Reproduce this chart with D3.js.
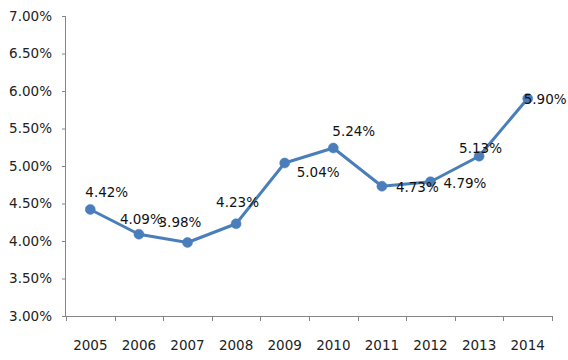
<!DOCTYPE html>
<html><head><meta charset="utf-8">
<script src="https://cdn.jsdelivr.net/npm/d3@7"></script>
<style>
html,body{margin:0;padding:0;background:#fff;}
svg{display:block;}
text{font-family:"DejaVu Sans",Verdana,sans-serif;}
</style></head>
<body>
<svg id="chart" width="568" height="360"></svg>
<script>
const years = ["2005","2006","2007","2008","2009","2010","2011","2012","2013","2014"];
const rates = [4.42, 4.09, 3.98, 4.23, 5.04, 5.24, 4.73, 4.79, 5.13, 5.90];
const yTicks = [3.0, 3.5, 4.0, 4.5, 5.0, 5.5, 6.0, 6.5, 7.0];
// label placement (layout only): offsets of label left/baseline from the point
const labelOffsets = [[-5,-12.5],[-19,-10],[-29,-15.5],[-20,-17],[12,14],[-1,-12],[14,6],[13,6],[-20,-3],[-4,5.5]];

const svg = d3.select("#chart");
const mLeft = 66, mRight = 552, mTop = 16, mBottom = 316;
const x = d3.scaleBand().domain(years).range([mLeft, mRight]);
const y = d3.scaleLinear().domain([3, 7]).range([mBottom, mTop]);
const axisColor = "#868686";

// Y axis
const yAxis = svg.append("g").attr("transform", `translate(${mLeft},0)`)
  .call(d3.axisLeft(y).tickValues(yTicks).tickSize(4).tickPadding(10).tickFormat(d => d.toFixed(2) + "%"));
yAxis.select(".domain").attr("stroke", axisColor).attr("d", `M-0.5,${mTop}V${mBottom}`);
yAxis.selectAll(".tick line").attr("stroke", axisColor);
yAxis.selectAll(".tick text").attr("font-size", 13.5).attr("fill", "#222").attr("font-family", '"DejaVu Sans",Verdana,sans-serif');

// X axis
const xAxis = svg.append("g").attr("transform", `translate(0,${mBottom})`)
  .call(d3.axisBottom(x).tickSize(0).tickPadding(24));
xAxis.select(".domain").attr("stroke", axisColor).attr("d", `M${mLeft},0.5H${mRight}`);
xAxis.selectAll(".tick text").attr("font-size", 13.5).attr("fill", "#222").attr("font-family", '"DejaVu Sans",Verdana,sans-serif');
const bounds = years.map(d => x(d)).concat([x(years[years.length-1]) + x.bandwidth()]);
xAxis.selectAll("line.bt").data(bounds).enter().append("line").attr("class","bt")
  .attr("x1", d => Math.round(d)+0.5).attr("x2", d => Math.round(d)+0.5)
  .attr("y1", 0).attr("y2", 5).attr("stroke", axisColor);

// line
const cx = d => x(d) + x.bandwidth()/2;
const pts = years.map((d,i) => [cx(d), y(rates[i])]);
svg.append("path").datum(pts)
  .attr("d", d3.line())
  .attr("fill","none").attr("stroke","#4a7ebb").attr("stroke-width",3).attr("stroke-linejoin","round");

svg.selectAll("circle.pt").data(pts).enter().append("circle").attr("class","pt")
  .attr("cx", d => d[0]).attr("cy", d => d[1]).attr("r", 5)
  .attr("fill","#4a7ebb").attr("stroke","#4a7ebb").attr("stroke-width",0.5);

svg.selectAll("text.lbl").data(pts).enter().append("text").attr("class","lbl")
  .attr("x", (d,i) => d[0] + labelOffsets[i][0])
  .attr("y", (d,i) => d[1] + labelOffsets[i][1])
  .attr("font-size", 13.5).attr("fill","#111")
  .text((d,i) => rates[i].toFixed(2) + "%");
</script>
</body></html>
